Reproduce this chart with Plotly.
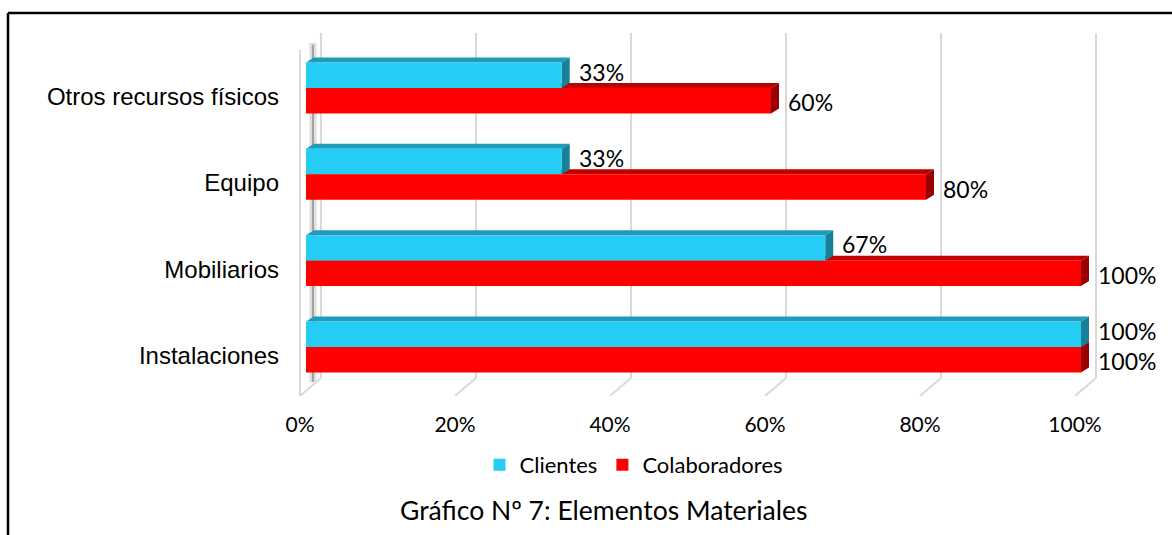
import plotly.graph_objects as go

# ---- data ----
categories = ["Otros recursos físicos", "Equipo", "Mobiliarios", "Instalaciones"]
series_names = ["Clientes", "Colaboradores"]
clientes = [0.33, 0.33, 0.67, 1.00]
colaboradores = [0.60, 0.80, 1.00, 1.00]
x_ticks = [0.0, 0.2, 0.4, 0.6, 0.8, 1.0]
x_tick_labels = ["0%", "20%", "40%", "60%", "80%", "100%"]
chart_caption = "Gráfico Nº 7: Elementos Materiales"

# ---- styling / geometry ----
W, H = 1172, 535
M_L, M_R, M_T, M_B = 290, 72, 33, 139
X_RANGE = [-0.0206, 1.0245]
Y_RANGE = [-0.568, 3.637]
PLOT_W = W - M_L - M_R
PLOT_H = H - M_T - M_B
PX_X = (X_RANGE[1] - X_RANGE[0]) / PLOT_W
PX_Y = (Y_RANGE[1] - Y_RANGE[0]) / PLOT_H

BAR_H = 0.295            # thickness of one bar front face (y units)
DEPTH_DX = 8 * PX_X      # extrusion of the bars
DEPTH_DY = 5 * PX_Y
WALL_BACK = 15 * PX_X    # back wall offset from the bar front plane
WALL_FRONT = -6 * PX_X   # front floor edge offset
FLOOR_BACK = Y_RANGE[0] + 18 * PX_Y
WALL_TOP = Y_RANGE[1]

CYAN = ["#25CDF5", "#1E9BB8", "#19809A"]   # front, top, side
RED = ["#FF0000", "#C00000", "#990000"]
GRID = "#D9D9D9"

LABEL_FONT = "Lato, 'Open Sans', sans-serif"
CAT_FONT = "'Liberation Sans', Arial, sans-serif"

n = len(categories)
pos = [n - 1 - k for k in range(n)]

fig = go.Figure()

# front faces of the bars
fig.add_trace(go.Bar(
    name=series_names[0], x=clientes, y=pos, orientation="h",
    offset=0, width=BAR_H, marker=dict(color=CYAN[0], line=dict(width=0)),
    hoverinfo="skip",
))
fig.add_trace(go.Bar(
    name=series_names[1], x=colaboradores, y=pos, orientation="h",
    offset=-BAR_H, width=BAR_H, marker=dict(color=RED[0], line=dict(width=0)),
    hoverinfo="skip",
))

shapes = []

def line(x0, y0, x1, y1, color, width, opacity=1.0):
    shapes.append(dict(type="line", xref="x", yref="y", x0=x0, y0=y0, x1=x1, y1=y1,
                       line=dict(color=color, width=width), opacity=opacity, layer="below"))

# gridlines on the back wall, folding down across the floor
for t in x_ticks:
    line(t + WALL_BACK, WALL_TOP, t + WALL_BACK, FLOOR_BACK, GRID, 2)
    line(t + WALL_BACK, FLOOR_BACK, t + WALL_FRONT, Y_RANGE[0], GRID, 2)

# left side wall edge and its shading
line(WALL_FRONT, Y_RANGE[0], WALL_FRONT, 3.44, GRID, 2)
line(7 * PX_X, Y_RANGE[0] + 14 * PX_Y, 7 * PX_X, 3.52, "#D6D6D6", 7, 0.8)
line(7 * PX_X, Y_RANGE[0] + 14 * PX_Y, 7 * PX_X, 3.50, "#8A8A8A", 2, 0.7)


def poly(points, color):
    path = "M " + " L ".join(f"{px},{py}" for px, py in points) + " Z"
    shapes.append(dict(type="path", xref="x", yref="y", path=path,
                       fillcolor=color, line=dict(width=0), layer="below"))


def extrusion(values, y_bottoms, colors):
    for v, yb in zip(values, y_bottoms):
        yt = yb + BAR_H
        poly([(0, yt), (v, yt), (v + DEPTH_DX, yt + DEPTH_DY), (DEPTH_DX, yt + DEPTH_DY)], colors[1])
        poly([(v, yb), (v + DEPTH_DX, yb + DEPTH_DY), (v + DEPTH_DX, yt + DEPTH_DY), (v, yt)], colors[2])


extrusion(colaboradores, [p - BAR_H for p in pos], RED)
extrusion(clientes, pos, CYAN)

# value labels
annotations = []
for vals, offs in ((clientes, BAR_H / 2 + 3.5 * PX_Y), (colaboradores, -BAR_H / 2 - 1.5 * PX_Y)):
    for v, p in zip(vals, pos):
        annotations.append(dict(
            x=v, y=p + offs, xref="x", yref="y", text=f"{round(v * 100)}%",
            showarrow=False, xanchor="left", yanchor="middle", xshift=15,
            font=dict(family=LABEL_FONT, size=23, color="#000000"),
        ))

annotations.append(dict(
    x=(603 - M_L) / PLOT_W, y=-(510 - (H - M_B)) / PLOT_H, xref="paper", yref="paper",
    text=chart_caption, showarrow=False, xanchor="center", yanchor="middle",
    font=dict(family=LABEL_FONT, size=26.5, color="#000000"),
))

# outer frame (top and left edges)
fx0 = (8 - M_L) / PLOT_W
fy0 = ((H - M_B) - 13) / PLOT_H
fy_bottom = -(M_B + 5) / PLOT_H
shapes.append(dict(type="line", xref="paper", yref="paper", x0=fx0, y0=fy0,
                   x1=(W + 5 - M_L) / PLOT_W, y1=fy0, line=dict(color="#000000", width=2.5)))
shapes.append(dict(type="line", xref="paper", yref="paper", x0=fx0, y0=fy0,
                   x1=fx0, y1=fy_bottom, line=dict(color="#000000", width=2.5)))

fig.update_layout(
    width=W, height=H,
    margin=dict(l=M_L, r=M_R, t=M_T, b=M_B, pad=0),
    paper_bgcolor="#FFFFFF", plot_bgcolor="#FFFFFF",
    barmode="overlay",
    shapes=shapes, annotations=annotations,
    showlegend=True,
    legend=dict(
        orientation="h", x=(634 - M_L) / PLOT_W, xanchor="center",
        y=-(465 - (H - M_B)) / PLOT_H, yanchor="middle",
        font=dict(family=LABEL_FONT, size=22, color="#000000"),
        bgcolor="rgba(0,0,0,0)", traceorder="normal",
    ),
    xaxis=dict(
        range=X_RANGE, showgrid=False, zeroline=False, showline=False,
        tickmode="array", tickvals=[t + WALL_FRONT for t in x_ticks], ticktext=x_tick_labels,
        ticks="", ticklabelstandoff=14,
        tickfont=dict(family=LABEL_FONT, size=21, color="#000000"),
    ),
    yaxis=dict(
        range=Y_RANGE, showgrid=False, zeroline=False, showline=False,
        tickmode="array", tickvals=[p - 0.1 for p in pos], ticktext=categories,
        ticks="", ticklabelstandoff=10,
        tickfont=dict(family=CAT_FONT, size=24, color="#000000"),
    ),
)

fig.write_html("out.html")
